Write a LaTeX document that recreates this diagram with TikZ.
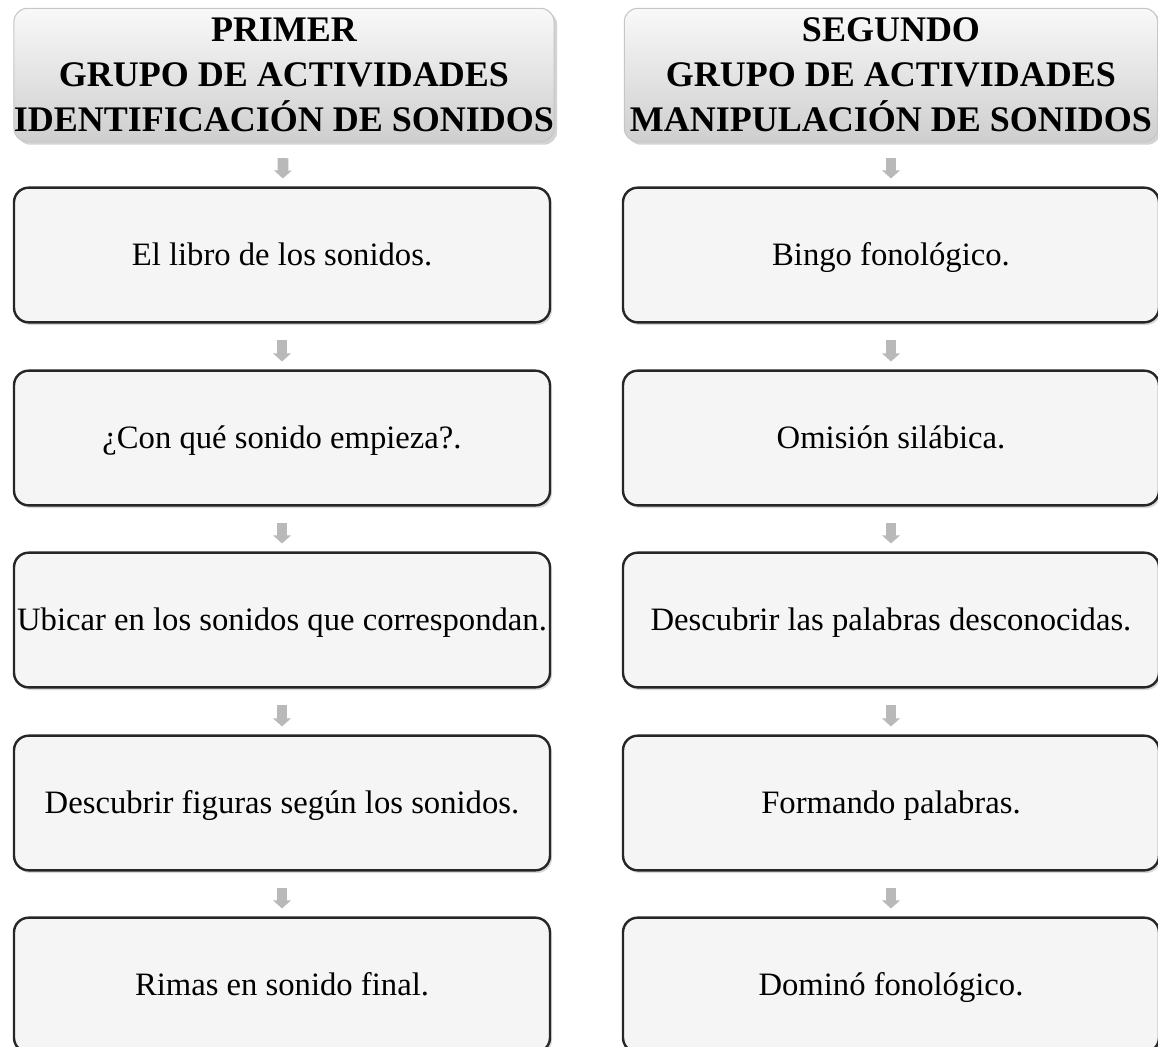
\documentclass[tikz,border=0pt]{standalone}
\usepackage{fontspec}
\setmainfont{Liberation Serif}
\usetikzlibrary{arrows.meta}
\usetikzlibrary{shadows}

\tikzset{
  cabecera/.style={rounded corners=10pt, draw=gray!45, line width=0.8pt,
    top color=gray!5, bottom color=gray!38, drop shadow={opacity=0.35},
    minimum width=400pt, minimum height=100pt, align=center,
    font=\fontsize{27}{33.75}\selectfont\bfseries, inner sep=0pt},
  caja/.style={rounded corners=11pt, draw=black!85, line width=1.8pt,
    fill=gray!8, drop shadow={opacity=0.3, shadow xshift=1.5pt, shadow yshift=-2pt},
    minimum width=402pt, minimum height=101pt, inner sep=0pt,
    text height=19pt, text depth=4pt,
    font=\fontsize{24.5}{28}\selectfont},
  flecha/.style={line width=8pt, draw=gray!55,
    -{Triangle[width=13pt,length=6pt]}, shorten <=12pt, shorten >=6pt}
}

\begin{document}
\begin{tikzpicture}[x=0.75pt, y=-0.75pt]
  \useasboundingbox (0,0) rectangle (1158,1047);
  % cabeceras
  \node[cabecera] (h1) at (284,75) {PRIMER\\GRUPO DE ACTIVIDADES\\IDENTIFICACIÓN DE SONIDOS};
  \node[cabecera] (h2) at (891,75) {SEGUNDO\\GRUPO DE ACTIVIDADES\\MANIPULACIÓN DE SONIDOS};
  % primer grupo
  \node[caja] (a1) at (282,255) {El libro de los sonidos.};
  \node[caja] (a2) at (282,438) {¿Con qué sonido empieza?.};
  \node[caja] (a3) at (282,620) {Ubicar en los sonidos que correspondan.};
  \node[caja] (a4) at (282,803) {Descubrir figuras según los sonidos.};
  \node[caja] (a5) at (282,985) {Rimas en sonido final.};
  % segundo grupo
  \node[caja] (b1) at (891,255) {Bingo fonológico.};
  \node[caja] (b2) at (891,438) {Omisión silábica.};
  \node[caja] (b3) at (891,620) {Descubrir las palabras desconocidas.};
  \node[caja] (b4) at (891,803) {Formando palabras.};
  \node[caja] (b5) at (891,985) {Dominó fonológico.};
  % flechas
  \draw[flecha] (h1) -- (a1);
  \draw[flecha] (a1) -- (a2);
  \draw[flecha] (a2) -- (a3);
  \draw[flecha] (a3) -- (a4);
  \draw[flecha] (a4) -- (a5);
  \draw[flecha] (h2) -- (b1);
  \draw[flecha] (b1) -- (b2);
  \draw[flecha] (b2) -- (b3);
  \draw[flecha] (b3) -- (b4);
  \draw[flecha] (b4) -- (b5);
\end{tikzpicture}
\end{document}
